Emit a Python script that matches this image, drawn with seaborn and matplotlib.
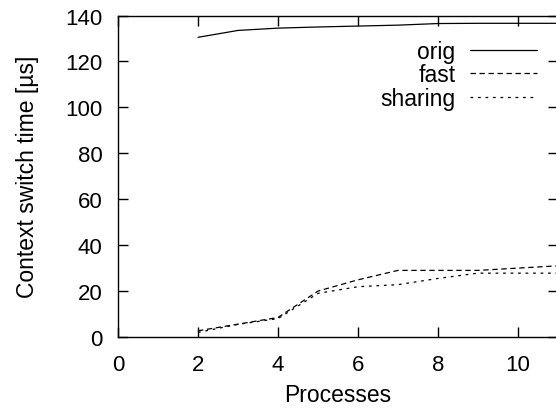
import matplotlib
matplotlib.use("Agg")
import matplotlib.pyplot as plt
import seaborn as sns
import pandas as pd

processes = [2, 3, 4, 5, 6, 7, 8, 9, 10, 11]
orig = [130.5, 133.5, 134.5, 135.0, 135.4, 135.8, 136.5, 136.6, 136.6, 136.6]
fast = [2.7, 5.6, 8.5, 20.0, 24.9, 29.0, 29.0, 29.0, 30.0, 31.0]
sharing = [2.0, 5.5, 8.0, 19.0, 21.9, 22.8, 25.5, 27.8, 27.8, 27.8]
series_names = ["orig", "fast", "sharing"]
xticks = [0, 2, 4, 6, 8, 10]
yticks = [0, 20, 40, 60, 80, 100, 120, 140]

df = pd.DataFrame({
    "Processes": processes * 3,
    "time": orig + fast + sharing,
    "series": [s for s in series_names for _ in processes],
})

sns.set_theme(style="ticks")
plt.rcParams["font.family"] = ["Liberation Sans", "DejaVu Sans"]
plt.rcParams["font.size"] = 16
plt.rcParams["text.color"] = "black"
plt.rcParams["axes.labelcolor"] = "black"

fig = plt.figure(figsize=(5.56, 4.10), dpi=100)
ax = fig.add_axes([118 / 556, (410 - 338) / 410, 440 / 556, 321.5 / 410])

dash_map = {"orig": "-", "fast": (0, (4.3, 2.9)), "sharing": (0, (2.2, 3.8))}
for name in series_names:
    sub = df[df["series"] == name]
    sns.lineplot(data=sub, x="Processes", y="time", ax=ax, color="black",
                 linewidth=0.9, linestyle=dash_map[name], label=name)

ax.set_xlim(0, 11)
ax.set_ylim(0, 140)
ax.set_xticks(xticks)
ax.set_yticks(yticks)
ax.set_xlabel("Processes", fontsize=16.5, labelpad=6, color="black")
ax.set_ylabel("Context switch time [µs]", fontsize=16.5, labelpad=19, color="black")
ax.tick_params(axis="both", which="both", direction="in", length=7, width=1,
               top=True, right=True, labelsize=16, colors="black", pad=11)
ax.tick_params(axis="x", pad=12)
for sp in ax.spines.values():
    sp.set_visible(True)
    sp.set_linewidth(1.0)
    sp.set_color("black")

ax.legend(loc="upper right", bbox_to_anchor=(0.952, 0.925), frameon=False,
          markerfirst=False, borderaxespad=0, borderpad=0, handlelength=2.9,
          handletextpad=0.65, labelspacing=0.02, fontsize=16.5)

fig.savefig("out.png", dpi=100)
